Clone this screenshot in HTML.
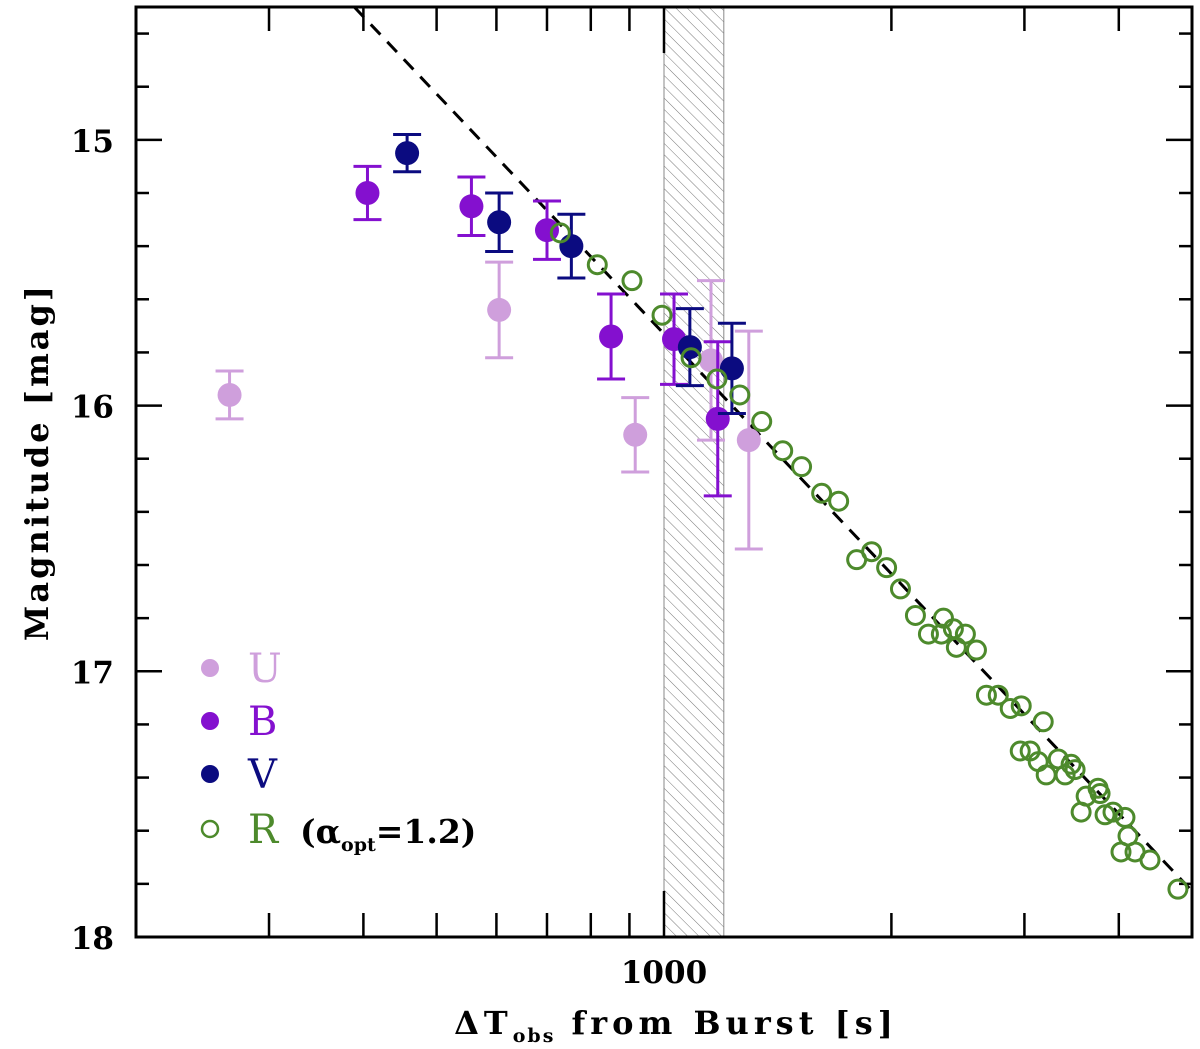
<!DOCTYPE html>
<html><head><meta charset="utf-8"><style>
html,body{margin:0;padding:0;background:#fff;}
svg{display:block;}
text{font-family:"DejaVu Serif","Liberation Serif",serif;}
</style></head><body>
<svg id="chart" width="1200" height="1049" viewBox="0 0 1200 1049" xmlns="http://www.w3.org/2000/svg">
<g id="band"></g>
<g id="grid"></g>
<g id="fit"></g>
<g id="marks"></g>
<g id="legend"></g>
<text transform="translate(48,462) rotate(-90)" text-anchor="middle" font-size="32" font-weight="bold" letter-spacing="3">Magnitude [mag]</text>
<text x="676" y="1034" text-anchor="middle" font-size="32" font-weight="bold" letter-spacing="5">ΔT<tspan font-size="19" dy="8" letter-spacing="2">obs</tspan><tspan dy="-8"> from Burst [s]</tspan></text>
</svg>
<script>
const uT=[266,605,916,1154,1295];
const uM=[15.96,15.64,16.11,15.83,16.13];
const uE=[0.09,0.18,0.14,0.30,0.41];
const bT=[405,556,700,851,1031,1178];
const bM=[15.20,15.25,15.34,15.74,15.75,16.05];
const bE=[0.10,0.11,0.11,0.16,0.17,0.29];
const vT=[457,605,754,1082,1230];
const vM=[15.05,15.31,15.40,15.78,15.86];
const vE=[0.07,0.11,0.12,0.145,0.17];
const rT=[729,816,907,994,1086,1175,1260,1347,1436,1521,1617,1703,1799,1883,1971,2056,2152,2239,2344,2329,2416,2506,2438,2592,2672,2770,2873,2971,3177,2962,3053,3129,3206,3326,3396,3459,3501,3755,3778,3621,3566,3836,3930,4076,4114,4027,4203,4399,4790];
const rM=[15.35,15.47,15.53,15.66,15.82,15.90,15.96,16.06,16.17,16.23,16.33,16.36,16.58,16.55,16.61,16.69,16.79,16.86,16.80,16.86,16.84,16.86,16.91,16.92,17.09,17.09,17.14,17.13,17.19,17.30,17.30,17.34,17.39,17.33,17.39,17.35,17.37,17.44,17.46,17.47,17.53,17.54,17.53,17.55,17.62,17.68,17.68,17.71,17.82];
const yTicks=[15,16,17,18];
const xTickLabels=[1000];
const fitAlpha=1.2, fitT0=389, fitM0=14.5;
const bandRange=[1000,1200];

const L=136,R=1192,T=7,B=937,tMin=200,tMax=5000,mMin=14.5,mMax=18;
const X=t=>L+(Math.log10(t)-Math.log10(tMin))/(Math.log10(tMax)-Math.log10(tMin))*(R-L);
const Y=m=>T+(m-mMin)/(mMax-mMin)*(B-T);
const NS="http://www.w3.org/2000/svg";
function mk(tag,attrs,parent){const e=document.createElementNS(NS,tag);for(const k in attrs)e.setAttribute(k,attrs[k]);parent.appendChild(e);return e;}

const band=document.getElementById('band');
const defs=mk('defs',{},document.getElementById('chart'));
const pat=mk('pattern',{id:'hatch',width:'8',height:'8',patternUnits:'userSpaceOnUse',patternTransform:'rotate(-45)'},defs);
mk('line',{x1:0,y1:0,x2:0,y2:8,stroke:'#777','stroke-width':'1'},pat);
const br=mk('rect',{x:X(bandRange[0]),y:T,width:X(bandRange[1])-X(bandRange[0]),height:B-T,fill:'url(#hatch)',stroke:'#888','stroke-width':'1'},band);



const g=document.getElementById('grid');
const frame=mk('rect',{x:L,y:T,width:R-L,height:B-T,fill:'none',stroke:'#000','stroke-width':'3'},g);


for(let m=14.6;m<18;m+=0.2){const mm=Math.round(m*10)/10;const major=Math.abs(mm-Math.round(mm))<1e-6;const len=major?26:13;const y=Y(mm);
 mk('line',{x1:L,y1:y,x2:L+len,y2:y,stroke:'#000','stroke-width':'2.5'},g);
 mk('line',{x1:R,y1:y,x2:R-len,y2:y,stroke:'#000','stroke-width':'2.5'},g);}
yTicks.forEach(v=>{const t=mk('text',{x:114,y:Y(v)+12,'text-anchor':'end','font-size':'31','font-weight':'bold'},g);t.textContent=v;
 
 });
[300,400,500,600,700,800,900,1000,2000,3000,4000].forEach(v=>{const major=v===1000;const len=major?46:24;const x=X(v);
 mk('line',{x1:x,y1:B,x2:x,y2:B-len,stroke:'#000','stroke-width':'2.5'},g);
 mk('line',{x1:x,y1:T,x2:x,y2:T+len,stroke:'#000','stroke-width':'2.5'},g);});
xTickLabels.forEach(v=>{const t=mk('text',{x:X(v),y:983,'text-anchor':'middle','font-size':'31','font-weight':'bold'},g);t.textContent=v;
 
 });

const fm=t=>fitM0+2.5*fitAlpha*Math.log10(t/fitT0);
const fl=mk('line',{x1:X(fitT0),y1:Y(fm(fitT0)),x2:X(tMax),y2:Y(fm(tMax)),stroke:'#000','stroke-width':'3','stroke-dasharray':'14 10'},document.getElementById('fit'));



const marks=document.getElementById('marks');
function series(ts,ms,es,col,name){const sg=mk('g',{},marks);
 
 
 ts.forEach((t,i)=>{const x=X(t),y1=Y(ms[i]-es[i]),y2=Y(ms[i]+es[i]);
  mk('line',{x1:x,y1:y1,x2:x,y2:y2,stroke:col,'stroke-width':'3'},sg);
  mk('line',{x1:x-14,y1:y1,x2:x+14,y2:y1,stroke:col,'stroke-width':'3'},sg);
  mk('line',{x1:x-14,y1:y2,x2:x+14,y2:y2,stroke:col,'stroke-width':'3'},sg);
  const c=mk('circle',{cx:x,cy:Y(ms[i]),r:12,fill:col},sg);
  
  });}
series(uT,uM,uE,'#cf9fdc','u-band');
series(bT,bM,bE,'#8410cf','b-band');
series(vT,vM,vE,'#0b0b80','v-band');
const rg=mk('g',{},marks);


rT.forEach((t,i)=>{const c=mk('circle',{cx:X(t),cy:Y(rM[i]),r:9,fill:'none',stroke:'#4d8a2c','stroke-width':'3'},rg);
 
 });

const lg=document.getElementById('legend');
const leg=[['U','#cf9fdc',668,true],['B','#8410cf',721,true],['V','#0b0b80',774,true],['R','#4d8a2c',829,false]];
leg.forEach(([lab,col,y,filled])=>{
 const c=filled?mk('circle',{cx:210,cy:y,r:9,fill:col},lg):mk('circle',{cx:210,cy:y,r:8,fill:'none',stroke:col,'stroke-width':'2.5'},lg);
 
 
 const t=mk('text',{x:248,y:y+14,'font-size':'40',fill:col,'font-family':'Liberation Serif, serif'},lg);t.textContent=lab;
 
 });
const at=mk('text',{x:300,y:843,'font-size':'33','font-weight':'bold'},lg);
at.innerHTML='(α<tspan font-size="19" dy="8">opt</tspan><tspan dy="-8">=1.2)</tspan>';


</script>
</body></html>
